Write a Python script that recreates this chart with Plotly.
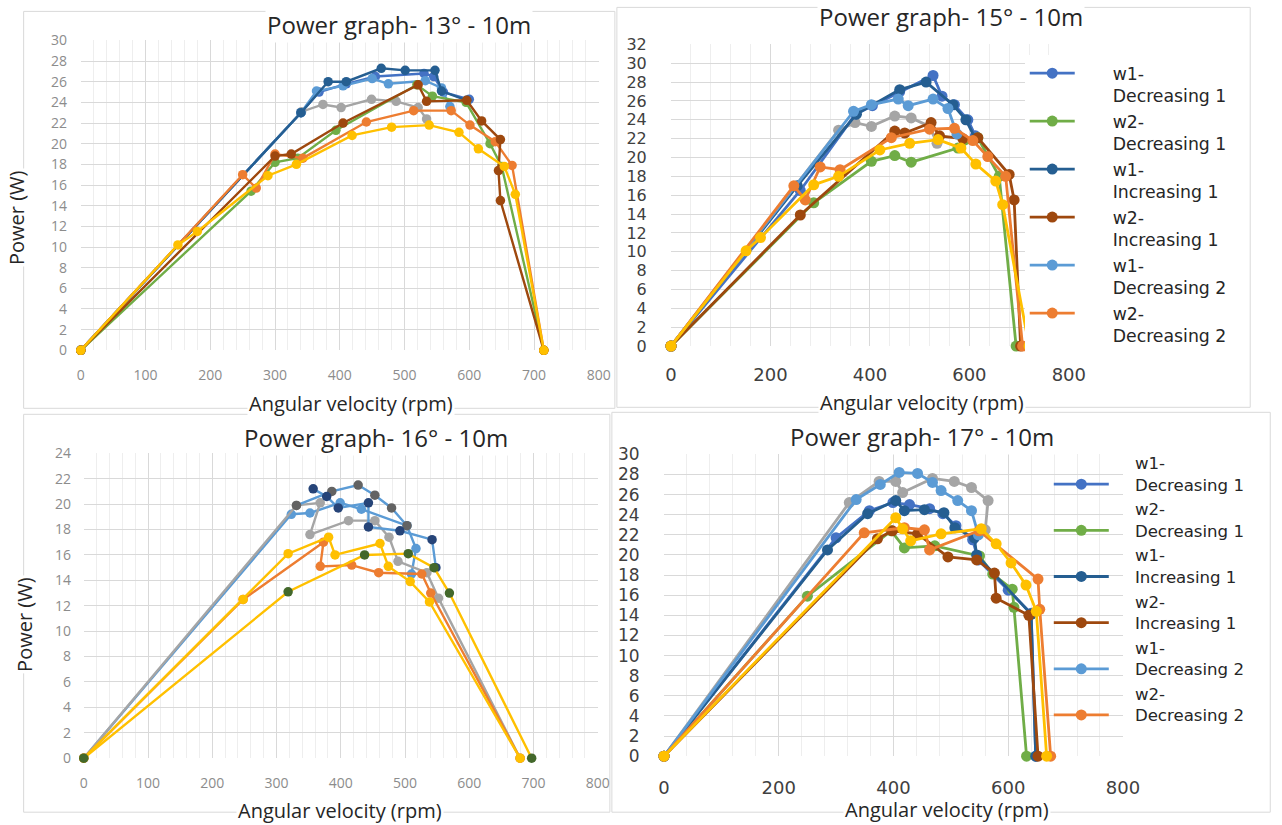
import plotly.graph_objects as go

W, H = 1282, 825

# ---------------- Power graph- 13° - 10m ----------------
RPM13_W1D1 = [0, 340, 368, 410, 455, 530, 545, 560, 600]
PW13_W1D1 = [0, 23.0, 25.0, 25.8, 26.5, 26.8, 26.5, 25.0, 24.3]
RPM13_W2D1 = [0, 263, 300, 335, 394, 519, 543, 595, 632, 650, 715]
PW13_W2D1 = [0, 15.4, 18.2, 18.6, 21.3, 25.7, 24.6, 24.0, 20.0, 17.8, 0]
RPM13_W1I1 = [0, 340, 382, 410, 464, 501, 547, 557, 596]
PW13_W1I1 = [0, 23.0, 26.0, 26.0, 27.3, 27.1, 27.1, 25.1, 24.2]
RPM13_W2I1 = [0, 300, 325, 405, 521, 534, 596, 619, 648, 645, 648, 715]
PW13_W2I1 = [0, 18.8, 19.0, 22.0, 25.7, 24.1, 24.2, 22.2, 20.4, 17.4, 14.5, 0]
RPM13_W1D2 = [0, 340, 364, 405, 450, 475, 532, 557, 570]
PW13_W1D2 = [0, 23.0, 25.1, 25.6, 26.3, 25.8, 26.1, 25.4, 23.6]
RPM13_W2D2 = [0, 250, 271, 300, 343, 441, 514, 572, 601, 640, 666, 715]
PW13_W2D2 = [0, 17.0, 15.7, 19.0, 18.6, 22.1, 23.2, 23.2, 21.8, 20.2, 17.9, 0]
RPM13_W1I2 = [0, 341, 374, 402, 449, 487, 521, 534]
PW13_W1I2 = [0, 23.1, 23.8, 23.5, 24.3, 24.1, 23.5, 22.4]
RPM13_W2I2 = [0, 150, 180, 289, 333, 419, 480, 538, 584, 614, 654, 671, 715]
PW13_W2I2 = [0, 10.2, 11.5, 16.9, 18.0, 20.8, 21.6, 21.8, 21.1, 19.5, 17.8, 15.1, 0]

# ---------------- Power graph- 15° - 10m ----------------
RPM15_W1D1 = [0, 260, 371, 405, 460, 527, 545, 570, 597, 612]
PW15_W1D1 = [0, 16.5, 24.6, 25.5, 27.0, 28.7, 26.5, 25.6, 24.0, 22.3]
RPM15_W2D1 = [0, 287, 403, 450, 483, 577, 617, 660, 694]
PW15_W2D1 = [0, 15.2, 19.6, 20.2, 19.5, 21.0, 22.1, 18.0, 0]
RPM15_W1I1 = [0, 254, 373, 460, 513, 567, 593, 612]
PW15_W1I1 = [0, 17.0, 24.6, 27.2, 28.0, 25.6, 24.0, 22.0]
RPM15_W2I1 = [0, 260, 450, 470, 523, 540, 587, 617, 680, 690, 703]
PW15_W2I1 = [0, 13.9, 22.8, 22.6, 23.7, 22.3, 22.0, 22.1, 18.2, 15.5, 0]
RPM15_W1D2 = [0, 367, 403, 457, 477, 527, 557, 575]
PW15_W1D2 = [0, 24.9, 25.6, 26.2, 25.5, 26.2, 25.2, 22.5]
RPM15_W2D2 = [0, 247, 270, 300, 340, 443, 520, 570, 607, 637, 673, 707]
PW15_W2D2 = [0, 17.0, 15.5, 19.0, 18.7, 22.1, 23.0, 23.1, 21.8, 20.1, 18.0, 0]
RPM15_W1I2 = [0, 337, 370, 403, 450, 483, 520, 535]
PW15_W1I2 = [0, 22.9, 23.7, 23.3, 24.4, 24.2, 23.3, 21.5]
RPM15_W2I2 = [0, 151, 180, 287, 337, 420, 480, 537, 583, 613, 653, 667, 720]
PW15_W2I2 = [0, 10.1, 11.5, 17.1, 18.0, 20.8, 21.5, 21.9, 21.0, 19.3, 17.5, 15.0, 0]

# ---------------- Power graph- 16° - 10m ----------------
RPM16_A = [0, 323, 352, 399, 432, 503, 517, 510]
PW16_A = [0, 19.2, 19.3, 20.1, 19.6, 18.3, 16.5, 14.5]
RPM16_B = [357, 378, 396, 443, 443, 492, 542, 548]
PW16_B = [21.2, 20.6, 19.7, 20.1, 18.2, 17.9, 17.2, 15.0]
RPM16_C = [331, 386, 427, 453, 479, 503]
PW16_C = [19.9, 21.0, 21.5, 20.7, 19.7, 18.3]
RPM16_D = [0, 331, 368, 352, 412, 453, 475, 489, 534, 552, 679]
PW16_D = [0, 19.9, 20.1, 17.6, 18.7, 18.7, 17.4, 15.5, 14.6, 12.6, 0]
RPM16_E = [0, 248, 373, 368, 417, 459, 526, 540, 679]
PW16_E = [0, 12.5, 17.0, 15.1, 15.2, 14.6, 14.5, 13.0, 0]
RPM16_F = [0, 248, 318, 381, 391, 461, 474, 508, 538, 679]
PW16_F = [0, 12.5, 16.1, 17.4, 16.0, 16.9, 15.1, 13.9, 12.3, 0]
RPM16_G = [0, 318, 437, 505, 545, 569, 697]
PW16_G = [0, 13.1, 16.0, 16.1, 15.0, 13.0, 0]

# ---------------- Power graph- 17° - 10m ----------------
RPM17_W1D1 = [0, 300, 358, 399, 428, 463, 486, 509, 538, 548, 600, 640, 648]
PW17_W1D1 = [0, 21.7, 24.4, 25.2, 25.0, 24.6, 24.1, 22.9, 21.5, 19.5, 16.5, 14.2, 0]
RPM17_W2D1 = [0, 250, 396, 419, 472, 550, 573, 607, 610, 632]
PW17_W2D1 = [0, 15.9, 22.4, 20.7, 20.9, 19.9, 18.1, 16.6, 14.8, 0]
RPM17_W1I1 = [0, 285, 355, 404, 419, 454, 488, 507, 541, 545, 640, 648]
PW17_W1I1 = [0, 20.5, 24.1, 25.4, 24.4, 24.5, 24.2, 22.7, 21.7, 20.0, 14.1, 0]
RPM17_W2I1 = [0, 372, 398, 442, 495, 545, 576, 579, 636, 652]
PW17_W2I1 = [0, 21.6, 22.4, 22.1, 19.8, 19.5, 18.2, 15.7, 14.0, 0]
RPM17_W1D2 = [0, 335, 377, 410, 442, 468, 483, 512, 536, 548]
PW17_W1D2 = [0, 25.5, 27.0, 28.2, 28.1, 27.2, 26.4, 25.4, 24.4, 22.0]
RPM17_W2D2 = [0, 349, 419, 454, 463, 549, 652, 655, 674]
PW17_W2D2 = [0, 22.2, 22.7, 22.5, 20.5, 22.4, 17.6, 14.6, 0]
RPM17_W1I2 = [0, 323, 375, 404, 416, 468, 506, 536, 565, 560]
PW17_W1I2 = [0, 25.2, 27.3, 27.3, 26.2, 27.6, 27.3, 26.7, 25.4, 22.5]
RPM17_W2I2 = [0, 404, 416, 430, 483, 553, 579, 605, 631, 649, 667]
PW17_W2I2 = [0, 23.7, 22.6, 21.4, 22.1, 22.6, 21.1, 19.2, 17.0, 14.4, 0]

TITLES = ["Power graph- 13° - 10m", "Power graph- 15° - 10m",
          "Power graph- 16° - 10m", "Power graph- 17° - 10m"]
SERIES_LABELS = [("w1-", "Decreasing 1"), ("w2-", "Decreasing 1"), ("w1-", "Increasing 1"),
                 ("w2-", "Increasing 1"), ("w1-", "Decreasing 2"), ("w2-", "Decreasing 2")]

C_W1D1 = "#4472C4"
C_W2D1 = "#70AD47"
C_W1I1 = "#255E91"
C_W2I1 = "#9E480E"
C_W1D2 = "#5B9BD5"
C_W2D2 = "#ED7D31"
C_W1I2 = "#A5A5A5"
C_W2I2 = "#FFC000"
C_NAVY = "#264478"
C_DGRAY = "#636363"
C_DGREEN = "#43682B"

NB = "\u00a0"

# compensation for the photographing step (measured: shown = offset + scale * drawn)
OX, SX = 8.4, 0.98
OY, SY = 10.6, 0.976


def px_x(p):
    return ((p - OX) / SX) / W


def px_y(p):
    return 1 - ((p - OY) / SY) / H


def legend_label(pair, indent):
    pad = NB * indent
    return pad + pair[0] + "<br>" + pad + pair[1]


fig = go.Figure()


def add(xs, ys, axis, lc, mc=None, name=None, legend=None, msize=11, lw=2.8):
    fig.add_trace(go.Scatter(
        x=xs, y=ys, mode="lines+markers", xaxis="x" + axis, yaxis="y" + axis,
        line=dict(color=lc, width=lw),
        marker=dict(color=mc or lc, size=msize),
        name=name or "", showlegend=legend is not None,
        legend=legend if legend else "legend",
        legendgroup=(legend or "") + (name or ""),
        cliponaxis=False))


# panel 1
s13 = [(RPM13_W1I2, PW13_W1I2, C_W1I2), (RPM13_W1D1, PW13_W1D1, C_W1D1),
       (RPM13_W1D2, PW13_W1D2, C_W1D2), (RPM13_W1I1, PW13_W1I1, C_W1I1),
       (RPM13_W2D1, PW13_W2D1, C_W2D1), (RPM13_W2D2, PW13_W2D2, C_W2D2),
       (RPM13_W2I1, PW13_W2I1, C_W2I1), (RPM13_W2I2, PW13_W2I2, C_W2I2)]
for xs, ys, c in s13:
    add(xs, ys, "", c, msize=9.5, lw=2.4)

# panel 2 (legend)
s15 = [(RPM15_W1D1, PW15_W1D1, C_W1D1), (RPM15_W2D1, PW15_W2D1, C_W2D1),
       (RPM15_W1I1, PW15_W1I1, C_W1I1), (RPM15_W2I1, PW15_W2I1, C_W2I1),
       (RPM15_W1D2, PW15_W1D2, C_W1D2), (RPM15_W2D2, PW15_W2D2, C_W2D2)]
add(RPM15_W1I2, PW15_W1I2, "2", C_W1I2)
for i, (xs, ys, c) in enumerate(s15):
    add(xs, ys, "2", c, name=legend_label(SERIES_LABELS[i], 6), legend="legend")
add(RPM15_W2I2, PW15_W2I2, "2", C_W2I2)

# panel 3
add(RPM16_A, PW16_A, "3", C_W1D2, msize=9.5, lw=2.4)
add(RPM16_D, PW16_D, "3", C_W1I2, msize=9.5, lw=2.4)
add(RPM16_C, PW16_C, "3", C_W1D2, C_DGRAY, msize=9.5, lw=2.4)
add(RPM16_B, PW16_B, "3", C_W1D2, C_NAVY, msize=9.5, lw=2.4)
add(RPM16_E, PW16_E, "3", C_W2D2, msize=9.5, lw=2.4)
add(RPM16_F, PW16_F, "3", C_W2I2, msize=9.5, lw=2.4)
add(RPM16_G, PW16_G, "3", C_W2I2, C_DGREEN, msize=9.5, lw=2.4)

# panel 4 (legend2)
s17 = [(RPM17_W1D1, PW17_W1D1, C_W1D1), (RPM17_W2D1, PW17_W2D1, C_W2D1),
       (RPM17_W1I1, PW17_W1I1, C_W1I1), (RPM17_W2I1, PW17_W2I1, C_W2I1),
       (RPM17_W1D2, PW17_W1D2, C_W1D2), (RPM17_W2D2, PW17_W2D2, C_W2D2)]
add(RPM17_W1I2, PW17_W1I2, "4", C_W1I2)
for i, (xs, ys, c) in enumerate(s17):
    add(xs, ys, "4", c, name=legend_label(SERIES_LABELS[i], 4), legend="legend2")
add(RPM17_W2I2, PW17_W2I2, "4", C_W2I2)

GRID = "#d9d9d9"
MINOR = "#eeeeee"
SMALL_FONT = dict(family="Open Sans", size=14, color="#8c8c8c")
BIG_FONT = dict(family="DejaVu Sans", size=18, color="#404040")
BIG_FONT_Y2 = dict(family="DejaVu Sans", size=16, color="#404040")
BIG_FONT_Y4 = dict(family="DejaVu Sans", size=17, color="#404040")


def xax(dom, dtick, mdt, font, tl, anchor):
    return dict(domain=dom, range=[0, 800], dtick=dtick, tick0=0, anchor=anchor,
                showgrid=True, gridcolor=GRID, gridwidth=1, zeroline=False,
                showline=False, ticks="outside", ticklen=tl,
                tickcolor="rgba(0,0,0,0)", tickfont=font,
                minor=dict(dtick=mdt, showgrid=True, gridcolor=MINOR, gridwidth=1),
                fixedrange=True)


def yax(dom, top, font, tl, anchor):
    return dict(domain=dom, range=[0, top], dtick=2, tick0=0, anchor=anchor,
                showgrid=True, gridcolor=GRID, gridwidth=1, zeroline=False,
                showline=False, ticks="outside", ticklen=tl,
                tickcolor="rgba(0,0,0,0)", tickfont=font, fixedrange=True)


D1 = ([px_x(83), px_x(600)], [px_y(351), px_y(41)])
D2 = ([px_x(672), px_x(1069)], [px_y(346.7), px_y(45)])
D3 = ([px_x(86), px_x(599)], [px_y(759), px_y(454)])
D4 = ([px_x(665), px_x(1123)], [px_y(757), px_y(455)])

annotations = []


def text(s, x, y, size, family="Open Sans", color="#262626", angle=0, bg="white"):
    annotations.append(dict(text=s, x=px_x(x), y=px_y(y), xref="paper", yref="paper",
                            xanchor="center", yanchor="middle", showarrow=False,
                            textangle=angle, bgcolor=bg,
                            font=dict(family=family, size=size, color=color)))


text(TITLES[0], 401, 25, 24)
text(TITLES[1], 951, 17, 24)
text(TITLES[2], 378, 438, 24)
text(TITLES[3], 922, 437, 24)
text("Angular velocity (rpm)", 353, 404, 20)
text("Angular velocity (rpm)", 922, 403, 20)
text("Angular velocity (rpm)", 342, 811, 20)
text("Angular velocity (rpm)", 947, 810, 20)
text("Power (W)", 19, 218, 20, angle=-90)
text("Power (W)", 27, 625, 20, angle=-90)

FRAME = "#d9d9d9"
shapes = []
for (x0, y0, x1, y1) in [(26, 12, 616, 409), (618, 8, 1250, 408),
                         (26, 415, 611, 813), (613, 413, 1270, 813)]:
    shapes.append(dict(type="rect", xref="paper", yref="paper",
                       x0=px_x(x0), x1=px_x(x1), y0=px_y(y1), y1=px_y(y0),
                       line=dict(color=FRAME, width=1), layer="below"))

LEG_FONT = dict(family="DejaVu Sans", size=17.3, color="#262626")
LEG2_FONT = dict(family="DejaVu Sans", size=16.6, color="#262626")

fig.update_layout(
    width=W, height=H, margin=dict(l=0, r=0, t=0, b=0),
    paper_bgcolor="white", plot_bgcolor="white",
    showlegend=True, hovermode=False,
    xaxis=xax(D1[0], 100, 20, SMALL_FONT, 12, "y"),
    yaxis=yax(D1[1], 30, SMALL_FONT, 10, "x"),
    xaxis2=xax(D2[0], 200, 40, BIG_FONT, 12, "y2"),
    yaxis2=yax(D2[1], 32, BIG_FONT_Y2, 20, "x2"),
    xaxis3=xax(D3[0], 100, 20, SMALL_FONT, 12, "y3"),
    yaxis3=yax(D3[1], 24, SMALL_FONT, 9, "x3"),
    xaxis4=xax(D4[0], 200, 40, BIG_FONT, 15, "y4"),
    yaxis4=yax(D4[1], 30, BIG_FONT_Y4, 20, "x4"),
    legend=dict(x=px_x(1025), y=px_y(56), xanchor="left", yanchor="top",
                bgcolor="white", font=LEG_FONT, itemwidth=45,
                tracegroupgap=0, valign="top"),
    legend2=dict(x=px_x(1049), y=px_y(446), xanchor="left", yanchor="top",
                 bgcolor="rgba(0,0,0,0)", font=LEG2_FONT, itemwidth=55,
                 tracegroupgap=0, valign="bottom"),
    annotations=annotations, shapes=shapes,
)

fig.write_html(
    "out.html",
    config={"displayModeBar": False, "staticPlot": True},
    post_script="document.body.style.margin='0';document.body.style.overflow='hidden';",
)
